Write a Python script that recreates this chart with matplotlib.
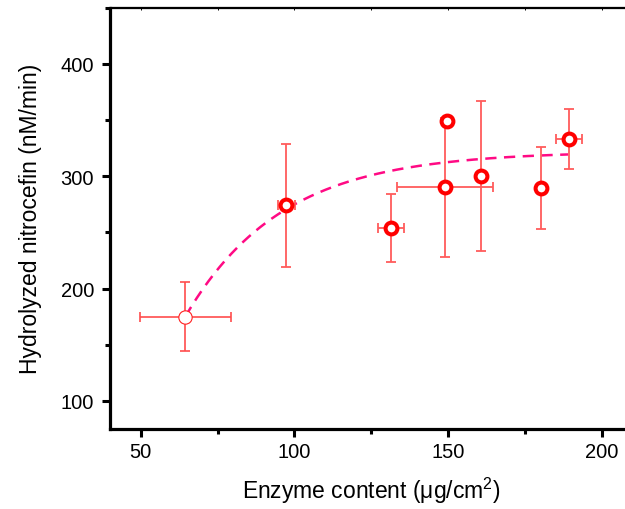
import numpy as np
import matplotlib
matplotlib.use('Agg')
import matplotlib.pyplot as plt
from matplotlib.ticker import MultipleLocator

plt.rcParams['font.family'] = ['Liberation Sans', 'DejaVu Sans']
plt.rcParams['mathtext.fontset'] = 'custom'
plt.rcParams['mathtext.rm'] = 'Liberation Sans'

# first (reference) point, drawn thin
ref_x = [64.5]
ref_y = [175]
ref_xerr = [14.7]
ref_yerr = [31]

# enzyme content (ug/cm2) and rate (nM/min)
enz = [97.3, 131.4, 149.0, 149.5, 160.6, 180.1, 189.2]
rate = [274, 254, 290, 349, 300, 289.5, 333]
enz_err = [2.8, 4.2, 15.5, 0, 0, 1.2, 4.2]
rate_err = [55, 30, 62, 0, 67, 36.5, 27]

# saturating fit y = ymax - amp*exp(-k*(x - x0))
fit_ymax = 322
fit_amp = 147
fit_k = 0.032
fit_x0 = 64.5
fit_xend = 189

fig = plt.figure(figsize=(6.25, 5.1), dpi=100)
ax = fig.add_axes([110/625, 80/510, 522.6/625, 421.5/510])

xs = np.linspace(fit_x0, fit_xend, 200)
ys = fit_ymax - fit_amp*np.exp(-fit_k*(xs - fit_x0))
ax.plot(xs, ys, color='#FF0A84', lw=1.8, dashes=(4.5, 3), zorder=2)

ax.errorbar(ref_x, ref_y, xerr=ref_xerr, yerr=ref_yerr, fmt='none',
            ecolor='#FF4D4D', elinewidth=1.2, capsize=3.5, capthick=1.2, zorder=3)
ax.errorbar(enz, rate, xerr=enz_err, yerr=rate_err, fmt='none',
            ecolor='#FF5C5C', elinewidth=1.3, capsize=3.5, capthick=1.3, zorder=3)

ax.plot(ref_x, ref_y, 'o', ms=9.6, mfc='white', mec='#FF2020', mew=0.8, zorder=4)
ax.plot(enz, rate, 'o', ms=8.5, mfc='white', mec='#FF0000', mew=2.9, zorder=4)

ax.set_xlim(40, 210)
ax.set_ylim(75, 450)
ax.xaxis.set_major_locator(MultipleLocator(50))
ax.xaxis.set_minor_locator(MultipleLocator(25))
ax.yaxis.set_major_locator(MultipleLocator(100))
ax.yaxis.set_minor_locator(MultipleLocator(50))

ax.spines['left'].set_linewidth(2.3)
ax.spines['bottom'].set_linewidth(2.3)
ax.spines['top'].set_linewidth(0.9)
ax.spines['right'].set_linewidth(0.9)
ax.tick_params(which='major', direction='out', length=5.5, width=2.2, labelsize=14.5)
ax.tick_params(axis='y', which='major', pad=6)
ax.tick_params(axis='x', which='major', pad=4)
ax.tick_params(which='minor', direction='out', length=3.5, width=2.2)

top = ax.secondary_xaxis('top')
top.xaxis.set_major_locator(MultipleLocator(50))
top.xaxis.set_minor_locator(MultipleLocator(25))
top.tick_params(which='both', direction='in', length=2, width=0.7, labeltop=False)
top.spines['top'].set_linewidth(0.9)

ax.set_xlabel('Enzyme content (μg/cm$^2$)', fontsize=16.5, labelpad=10)
ax.set_ylabel('Hydrolyzed nitrocefin (nM/min)', fontsize=16.5, labelpad=13)

fig.savefig('out.png', dpi=100)
